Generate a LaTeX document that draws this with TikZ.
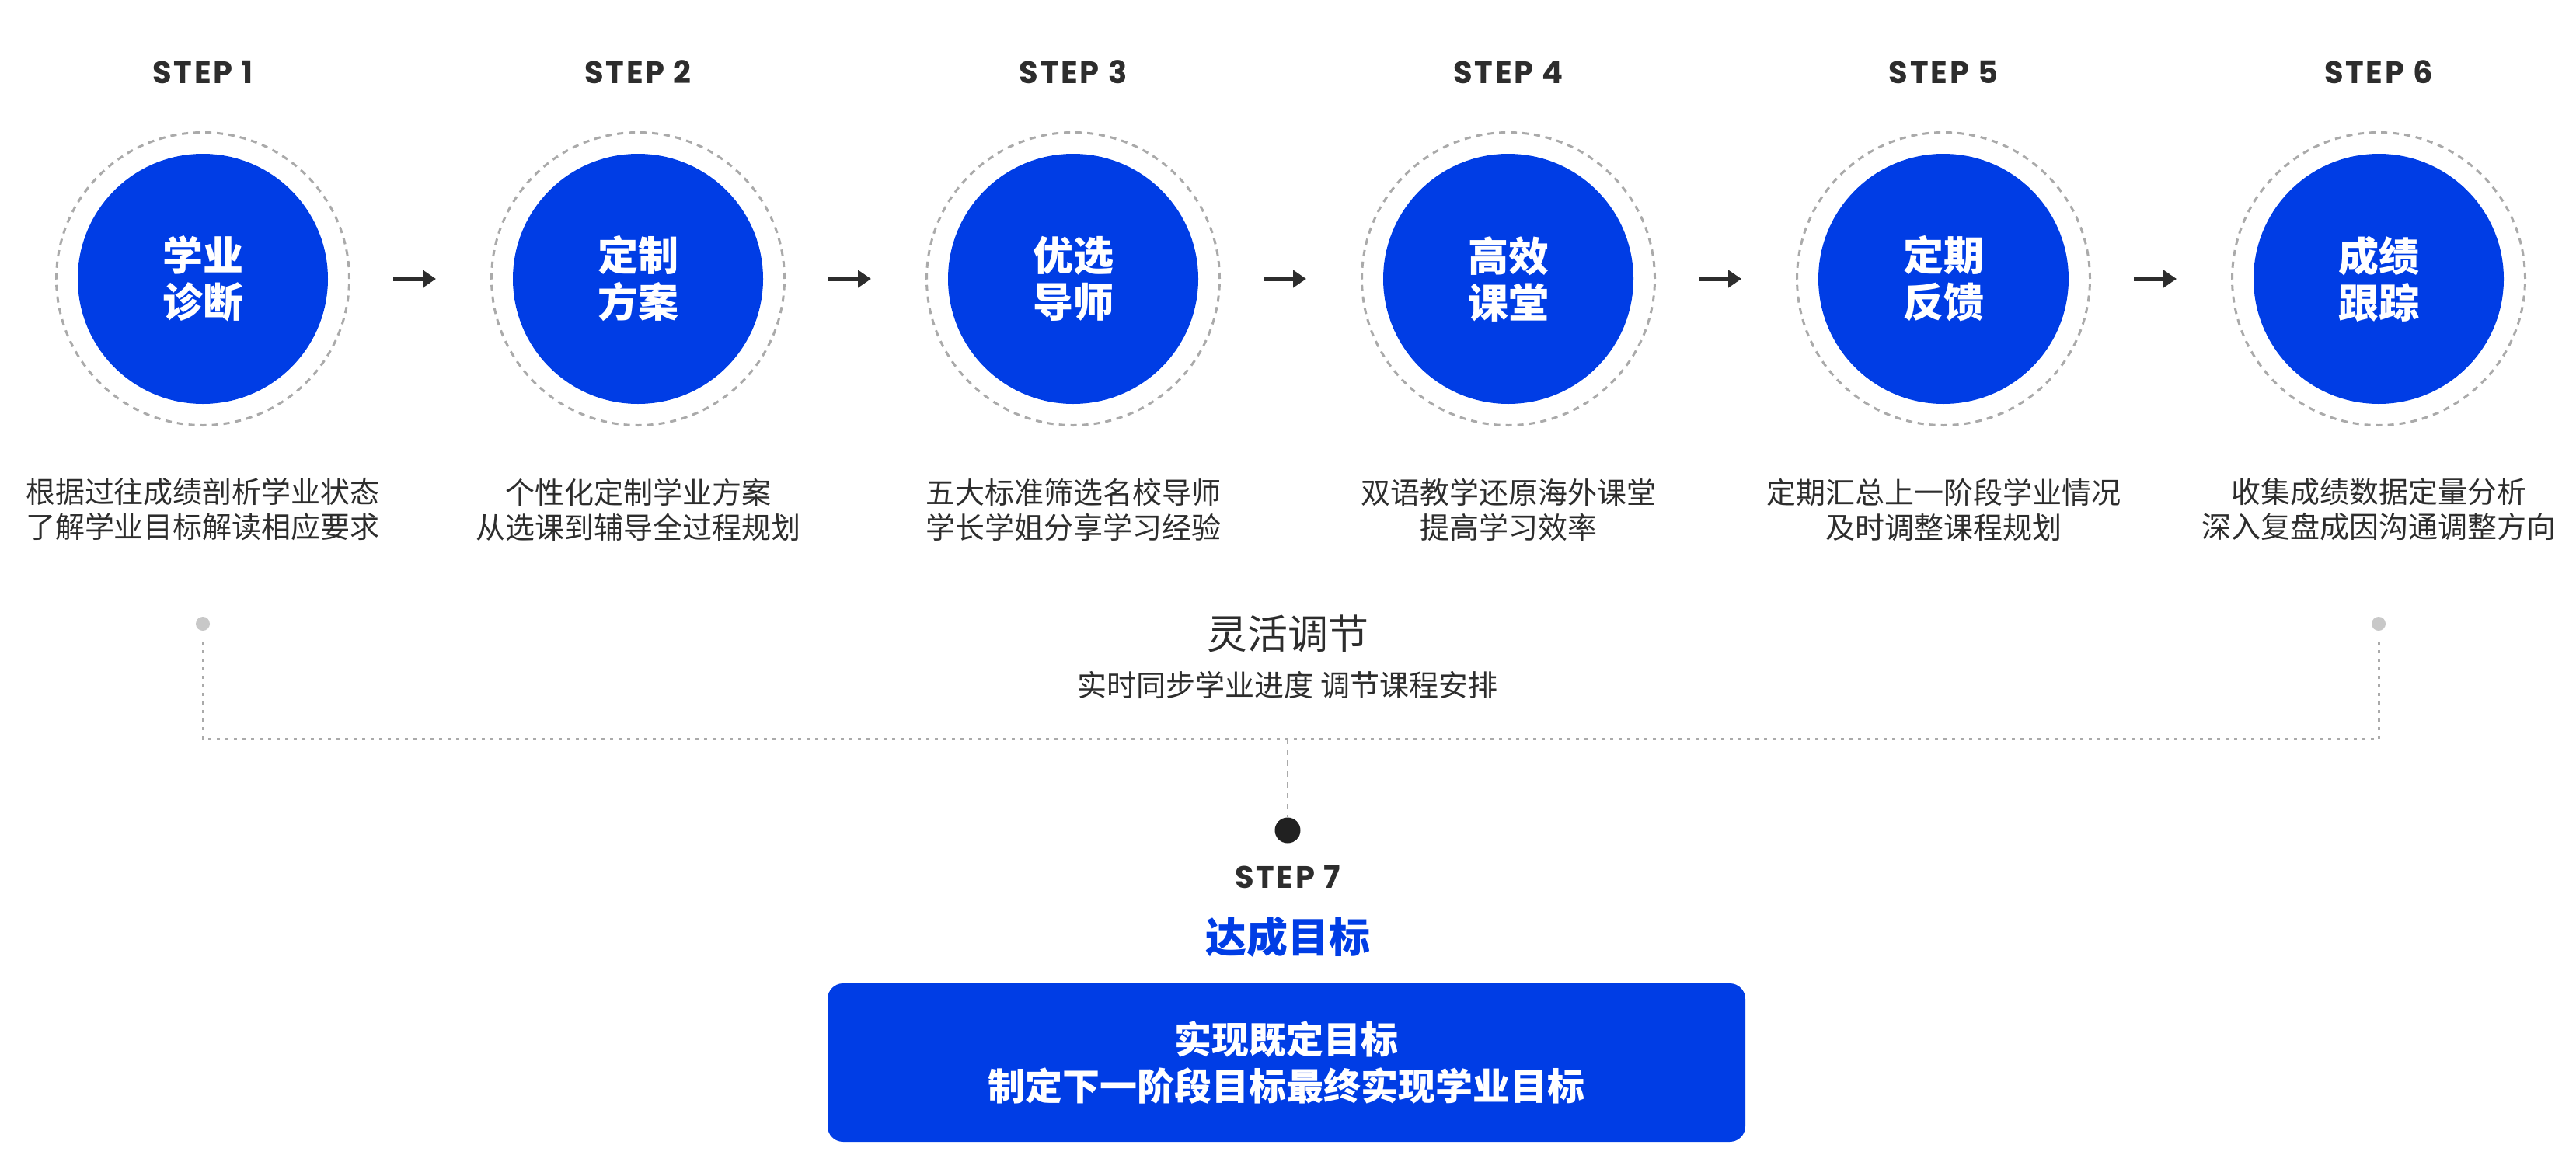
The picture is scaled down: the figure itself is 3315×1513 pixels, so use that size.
\documentclass[tikz,border=0pt]{standalone}
\usepackage{fontspec}
\newfontfamily\cjk{Noto Sans CJK SC}
\newfontfamily\stepfont{Poppins}[LetterSpace=7]
\usetikzlibrary{arrows.meta}
\definecolor{mainblue}{RGB}{0,61,229}
\definecolor{darktext}{RGB}{45,45,45}
\definecolor{linegray}{RGB}{170,170,170}
\definecolor{dotgray}{RGB}{200,200,200}
\tikzset{
stepname/.style={font=\stepfont\bfseries\fontsize{40}{40}\selectfont, text=darktext},
bluedisc/.style={circle, fill=mainblue, minimum size=322pt, inner sep=0pt, text=white, align=center, font=\cjk\bfseries\fontsize{52}{60}\selectfont},
ring/.style={circle, draw=linegray, line width=3pt, dash pattern=on 8pt off 7pt, minimum size=377pt, inner sep=0pt},
desc/.style={align=center, text=darktext, font=\cjk\fontsize{38}{45}\selectfont},
flow/.style={-{Triangle[length=17pt,width=22pt]}, line width=5pt, draw=darktext},
dotline/.style={draw=linegray, line width=3pt, dash pattern=on 4pt off 7pt},
dashline/.style={draw=linegray, line width=2.5pt, dash pattern=on 7pt off 7pt},
graydot/.style={circle, fill=dotgray, minimum size=18pt, inner sep=0pt},
}
\begin{document}
\begin{tikzpicture}[x=1pt,y=-1pt]
\useasboundingbox (0,0) rectangle (3315,1513);
\foreach \n/\t/\d in {1/{学业\\诊断}/{根据过往成绩剖析学业状态\\了解学业目标解读相应要求},2/{定制\\方案}/{个性化定制学业方案\\从选课到辅导全过程规划},3/{优选\\导师}/{五大标准筛选名校导师\\学长学姐分享学习经验},4/{高效\\课堂}/{双语教学还原海外课堂\\提高学习效率},5/{定期\\反馈}/{定期汇总上一阶段学业情况\\及时调整课程规划},6/{成绩\\跟踪}/{收集成绩数据定量分析\\深入复盘成因沟通调整方向}} {
\begin{scope}[shift={({(\n-1)*560},0)}]
\node[ring] (r\n) at (261,359) {};
\node[bluedisc] (c\n) at (r\n) {\t};
\node[stepname] (s\n) at (261,93) {STEP \n};
\node[desc] (d\n) at (261,656) {\d};
\end{scope}
}
\foreach \a/\b in {1/2,2/3,3/4,4/5,5/6} {
\draw[flow, shorten <=55pt, shorten >=70pt] (r\a.east) -- (r\b.west);
}
\node[graydot] (g1) at (261,803) {};
\node[graydot] (g6) at (3061,803) {};
\coordinate (k1) at (261,951);
\coordinate (k6) at (3061,951);
\coordinate (mid) at (1657,951);
\draw[dotline, shorten <=14pt] (g1) -- (k1) -- (k6);
\draw[dotline, shorten >=14pt] (k6) -- (g6);
\node[text=darktext, font=\cjk\fontsize{52}{52}\selectfont] (flex) at (1657,816) {灵活调节};
\node[text=darktext, font=\cjk\fontsize{38}{38}\selectfont] (flexsub) at (1657,882) {实时同步学业进度 调节课程安排};
\node[circle, fill=black!87, minimum size=33pt, inner sep=0pt] (bd) at (1657,1069) {};
\draw[dashline] (mid) -- (bd);
\node[stepname] (s7) at (1657,1129) {STEP 7};
\node[text=mainblue, font=\cjk\bfseries\fontsize{53}{53}\selectfont] (goal) at (1657,1206) {达成目标};
\node[rectangle, rounded corners=20pt, fill=mainblue, minimum width=1181pt, minimum height=204pt, text=white, align=center, font=\cjk\bfseries\fontsize{48}{60}\selectfont] (goalbox) at (1655.5,1368) {实现既定目标\\制定下一阶段目标最终实现学业目标};
\end{tikzpicture}
\end{document}
